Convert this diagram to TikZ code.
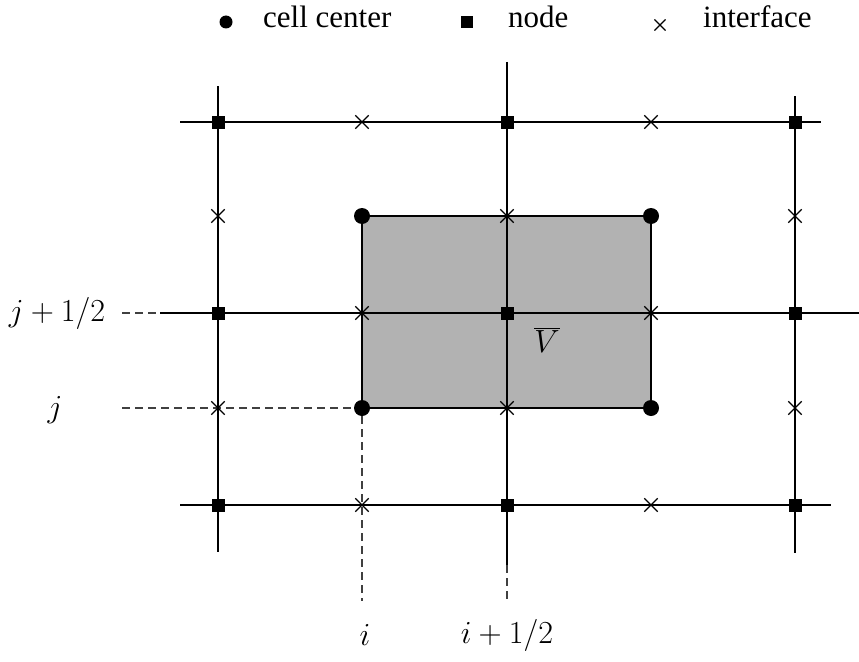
\documentclass[tikz,border=0pt]{standalone}
\usepackage{fontspec}
\newfontfamily\legendfont{Liberation Serif}
\usetikzlibrary{shapes.misc}
\definecolor{cvgray}{RGB}{178,178,178}
\tikzset{
  gridline/.style={line width=1.7pt, black},
  guide/.style={line width=1.4pt, black!75, dash pattern=on 8pt off 5pt},
  cc/.style={circle, fill=black, inner sep=0pt, minimum size=16pt},
  nd/.style={rectangle, fill=black, inner sep=0pt, minimum size=13pt},
  xf/.style={cross out, draw=black, line width=1.3pt, inner sep=0pt, minimum size=12pt},
  lbl/.style={inner sep=0pt, scale=1.29, font=\fontsize{24.88}{30}\selectfont},
  leg/.style={inner sep=0pt, anchor=base west, font=\legendfont\fontsize{31}{37}\selectfont}
}
\begin{document}
\begin{tikzpicture}[x=1pt, y=-1pt]
\useasboundingbox (0,0) rectangle (859,661);
% shaded control volume
\fill[cvgray] (362,216) rectangle (651,408);
\draw[gridline] (362,216) rectangle (651,408);
% grid coordinates
\coordinate (h1a) at (180,122); \coordinate (h1b) at (821,122);
\coordinate (h2d) at (122,313); \coordinate (h2a) at (160,313); \coordinate (h2b) at (859,313);
\coordinate (h3a) at (180,505); \coordinate (h3b) at (831,505);
\coordinate (v1a) at (218,86); \coordinate (v1b) at (218,552);
\coordinate (v2a) at (507,62);  \coordinate (v2b) at (507,565); \coordinate (v2c) at (507,601);
\coordinate (v3a) at (795,96);  \coordinate (v3b) at (795,553);
\coordinate (jd) at (122,408);
\coordinate (id) at (362,601);
% grid lines
\draw[gridline] (h1a) -- (h1b);
\draw[gridline] (h2a) -- (h2b);
\draw[gridline] (h3a) -- (h3b);
\draw[gridline] (v1a) -- (v1b);
\draw[gridline] (v2a) -- (v2b);
\draw[gridline] (v3a) -- (v3b);
% dashed guides
\draw[guide] (h2d) -- (h2a);
\draw[guide] (v2b) -- (v2c);
% nodes (squares)
\foreach \x/\n in {218/1,507/2,795/3}{
  \foreach \y/\m in {122/1,313/2,505/3}{
    \node[nd] (n\n\m) at (\x,\y) {};
  }
}
% cell centers
\node[cc] (c11) at (362,216) {};
\node[cc] (c21) at (651,216) {};
\node[cc] (c12) at (362,408) {};
\node[cc] (c22) at (651,408) {};
\draw[guide] (jd) -- (c12);
\draw[guide] (c12) -- (id);
% interfaces
\foreach \x/\y/\n in {362/122/a,651/122/b,218/216/c,507/216/d,795/216/e,362/313/f,651/313/g,218/408/h,507/408/i,795/408/j,362/505/k,651/505/l}{
  \node[xf] (x\n) at (\x,\y) {};
}
% labels
\node[lbl] (Vb) at (547,340) {$\overline{V}$};
\node[lbl] (lj2) at (57,313) {$j+1/2$};
\node[lbl] (lj) at (55,410) {$j$};
\node[lbl] (li) at (365,635) {$i$};
\node[lbl] (li2) at (507,635) {$i+1/2$};
% legend
\node[cc, minimum size=13pt] (lc) at (226,22) {};
\node[leg] (tc) at (263,28) {cell center};
\node[nd, minimum size=12pt] (ln) at (467,22) {};
\node[leg] (tn) at (508,28) {node};
\node[xf, minimum size=10pt, line width=1.1pt] (lx) at (660,25) {};
\node[leg] (tx) at (703,28) {interface};
\end{tikzpicture}
\end{document}
